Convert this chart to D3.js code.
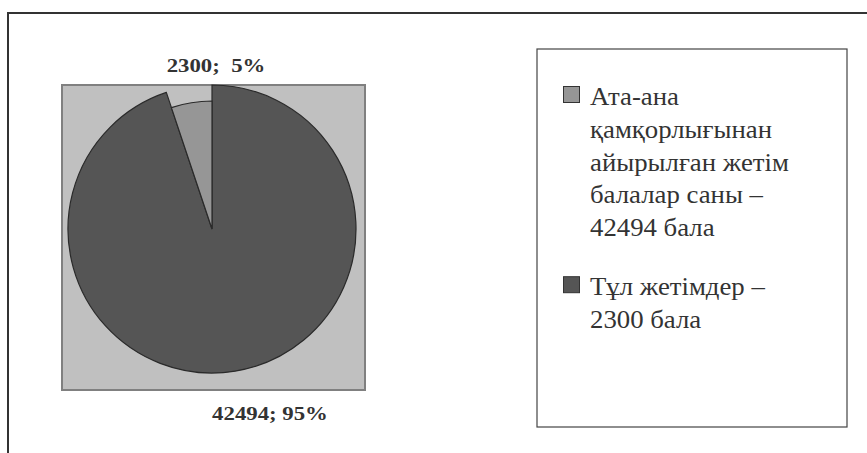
<!DOCTYPE html>
<html><head><meta charset="utf-8">
<script src="https://cdn.jsdelivr.net/npm/d3@7"></script>
<style>
html,body{margin:0;padding:0;background:#fff;}
svg{display:block;}
text{white-space:pre;}
</style></head>
<body>
<svg id="chart" width="867" height="453"></svg>
<script>
// ---- data ----
const categories = ["Ата-ана қамқорлығынан айырылған жетім балалар саны – 42494 бала", "Тұл жетімдер – 2300 бала"];
const values = [42494, 2300];
const dataLabels = ["42494; 95%", "2300;  5%"];
const legendLines = [
  ["Ата-ана", "қамқорлығынан", "айырылған жетім", "балалар саны –", "42494 бала"],
  ["Тұл жетімдер –", "2300 бала"]
];
const sliceColors = ["#555555", "#969696"];
const legendColors = ["#969696", "#555555"];

const svg = d3.select("#chart");

// outer frame
svg.append("rect").attr("x", 8).attr("y", 13).attr("width", 900).attr("height", 500)
  .attr("fill", "#fff").attr("stroke", "#333").attr("stroke-width", 2);

// plot area
const plot = {x: 62, y: 85, w: 303, h: 305};
svg.append("rect").attr("x", plot.x).attr("y", plot.y).attr("width", plot.w).attr("height", plot.h)
  .attr("fill", "#c0c0c0").attr("stroke", "#808080").attr("stroke-width", 2);

const cx = 212, cy = 229, R = 144;
const radii = [R, 128];

const pie = d3.pie().sort(null).value(d => d)(values);
const g = svg.append("g").attr("transform", `translate(${cx},${cy})`);
g.selectAll("path").data(pie).join("path")
  .attr("d", (d, i) => d3.arc().innerRadius(0).outerRadius(radii[i])(d))
  .attr("fill", (d, i) => sliceColors[i])
  .attr("stroke", "#2a2a2a").attr("stroke-width", 1.2);

// data labels
const labelPos = [
  {x: cx + 58, y: cy + R + 47},
  {x: cx + 4, y: cy - R - 13}
];
const sx = 1.2;
pie.forEach((d, i) => {
  svg.append("text")
    .attr("transform", `translate(${labelPos[i].x},${labelPos[i].y}) scale(${sx},1)`)
    .attr("text-anchor", "middle")
    .attr("font-family", "'Liberation Serif','Times New Roman',serif")
    .attr("font-weight", "bold").attr("font-size", 19)
    .attr("fill", "#333")
    .text(dataLabels[i]);
});

// legend
svg.append("rect").attr("x", 537).attr("y", 49).attr("width", 310).attr("height", 378)
  .attr("fill", "#fff").attr("stroke", "#444").attr("stroke-width", 1.2);

const lineH = 32.8;
let baseY = 105;
legendLines.forEach((lines, k) => {
  svg.append("rect").attr("x", 563.5).attr("y", baseY - 18.5).attr("width", 16).attr("height", 16)
    .attr("fill", legendColors[k]).attr("stroke", "#333").attr("stroke-width", 1);
  lines.forEach((ln, j) => {
    svg.append("text")
      .attr("transform", `translate(590,${baseY + j * lineH}) scale(1.03,1)`)
      .attr("font-family", "'Liberation Serif','Times New Roman',serif")
      .attr("font-size", 26).attr("fill", "#333")
      .text(ln);
  });
  baseY += (lines.length - 1) * lineH + 59;
});
</script>
</body></html>
